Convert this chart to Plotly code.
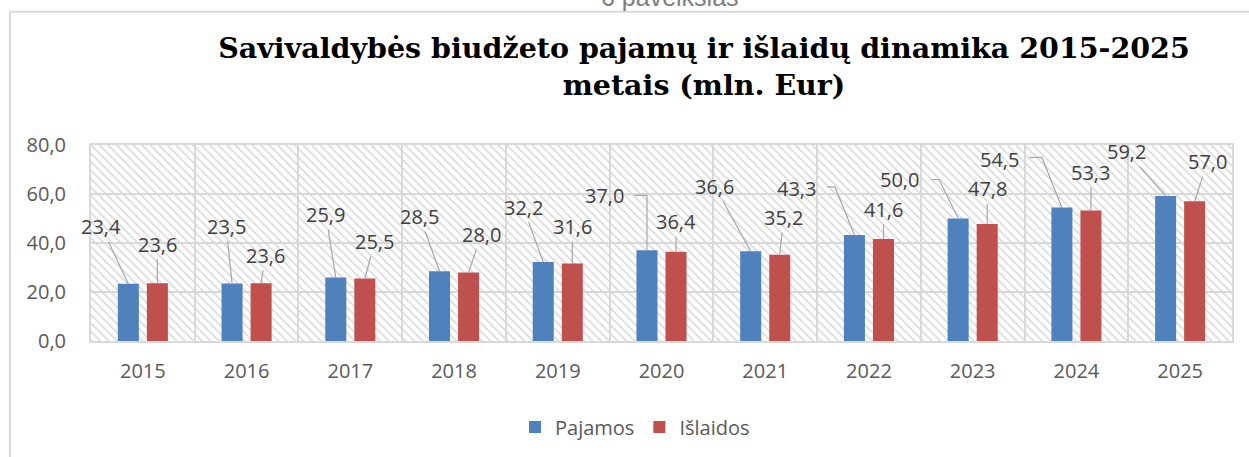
import plotly.graph_objects as go

# ---------------- data ----------------
years = ['2015', '2016', '2017', '2018', '2019', '2020', '2021', '2022', '2023', '2024', '2025']
pajamos = [23.4, 23.5, 25.9, 28.5, 32.2, 37.0, 36.6, 43.3, 50.0, 54.5, 59.2]
islaidos = [23.6, 23.6, 25.5, 28.0, 31.6, 36.4, 35.2, 41.6, 47.8, 53.3, 57.0]
series_names = ['Pajamos', 'Išlaidos']
y_tick_values = [0, 20, 40, 60, 80]

title_text = 'Savivaldybės biudžeto pajamų ir išlaidų dinamika 2015-2025<br>metais (mln. Eur)'
caption_text = '6 paveikslas'

# ---------------- styles / positions ----------------
colors = ['#4F81BD', '#C0504D']
W, H = 1249, 457
ML, MR, MT, MB = 91, 17, 145, 115
BARGAP, BARGROUPGAP = 0.44, 0.276
GRID = '#d9d9d9'
LEADER = '#a6a6a6'
FONT = 'Open Sans'

# data label offsets (pixels, relative to bar top centre; y downwards)
paj_lab_dx = [-27, -6, -10, -20, -20, -42, -36, -58, -59, -62, -39]
paj_lab_dy = [-57, -57, -63, -55, -55, -55, -65, -46, -39, -48, -44]
isl_lab_dx = [0, 4, 10, 13, 0, 0, 4, 0, 0, 0, 13]
isl_lab_dy = [-39, -28, -37, -38, -37, -30, -37, -30, -35, -38, -40]
# elbow leader lines: index -> (corner dx, corner dy, end dx)
paj_elbow = {5: (0, -55, -12), 7: (-19.5, -48, -27.5), 8: (-19, -39, -27), 9: (-20, -50, -32)}

plot_w = W - ML - MR
plot_h = H - MT - MB
cat_w = plot_w / len(years)
bar_off = cat_w * (1 - BARGAP) / 4.0


def fmt(v):
    return f'{v:.1f}'.replace('.', ',')


fig = go.Figure()

# hatched plot-area background (main axes, drawn under the overlay bars)
fig.add_trace(go.Scatter(
    x=[0, 1, 1, 0, 0], y=[0, 0, 1, 1, 0], xaxis='x', yaxis='y',
    mode='none', fill='toself', fillcolor='rgba(0,0,0,0)',
    fillpattern=dict(shape='\\', fgcolor='#d6d6d6', bgcolor='rgba(0,0,0,0)',
                     size=6, solidity=0.25, fillmode='replace'),
    hoverinfo='skip', showlegend=False))

for name, vals, col in zip(series_names, [pajamos, islaidos], colors):
    fig.add_trace(go.Bar(
        x=years, y=vals, name=name, marker=dict(color=col, line=dict(width=0)),
        xaxis='x2', yaxis='y2'))

annotations = []
shapes = []
for s, (vals, dxs, dys) in enumerate([(pajamos, paj_lab_dx, paj_lab_dy),
                                       (islaidos, isl_lab_dx, isl_lab_dy)]):
    shift = -bar_off if s == 0 else bar_off
    for i, v in enumerate(vals):
        elbow = paj_elbow.get(i) if s == 0 else None
        # category axis: position by category serial number
        annotations.append(dict(
            x=i, y=v, xref='x2', yref='y2', xshift=shift,
            text=fmt(v), showarrow=True, arrowhead=0, arrowwidth=1.2,
            arrowcolor='rgba(0,0,0,0)' if elbow else LEADER,
            ax=dxs[i], ay=dys[i],
            font=dict(family=FONT, size=20, color='#404040')))
        if elbow:
            cdx, cdy, edx = elbow
            path = f'M{shift:.2f},0 L{shift + cdx:.2f},{-cdy} L{shift + edx:.2f},{-cdy}'
            shapes.append(dict(
                type='path', path=path, xref='x2', yref='y2',
                xsizemode='pixel', ysizemode='pixel',
                xanchor=i, yanchor=v,
                line=dict(color=LEADER, width=1.2)))

# caption peeking in at the top
annotations.append(dict(
    text=caption_text, xref='paper', yref='paper', x=(670 - ML) / plot_w,
    y=(H - MB + 4) / plot_h, xanchor='center', yanchor='middle',
    showarrow=False, font=dict(family='Liberation Sans', size=25, color='#7f7f7f')))

# chart-area frame
shapes.append(dict(
    type='rect', xref='paper', yref='paper',
    x0=(10 - ML) / plot_w, x1=2.0, y0=-2.0, y1=(H - MB - 11) / plot_h,
    line=dict(color=GRID, width=2), fillcolor='rgba(0,0,0,0)', layer='below'))

fig.update_layout(
    width=W, height=H,
    margin=dict(l=ML, r=MR, t=MT, b=MB, pad=0),
    paper_bgcolor='white', plot_bgcolor='white',
    separators=', ',
    barmode='group', bargap=BARGAP, bargroupgap=BARGROUPGAP,
    title=dict(text=f'<b>{title_text}</b>', xref='container', yref='container',
               x=704 / W, xanchor='center', y=1 - 58 / H, yanchor='top',
               font=dict(family='DejaVu Serif', size=28.5, color='#000000')),
    xaxis=dict(range=[0, 1], visible=False, fixedrange=True),
    yaxis=dict(range=[0, 1], visible=False, fixedrange=True),
    xaxis2=dict(overlaying='x', anchor='y2', type='category',
                categoryorder='array', categoryarray=years,
                range=[-0.5, len(years) - 0.5], autorange=False,
                tickson='boundaries', showgrid=True, gridcolor=GRID, gridwidth=2,
                showline=True, mirror=True, linecolor=GRID, linewidth=2,
                ticks='', ticklabelstandoff=11,
                tickfont=dict(family=FONT, size=20, color='#595959')),
    yaxis2=dict(overlaying='y', anchor='x2', side='left', range=[0, 80],
                autorange=False,
                tickvals=y_tick_values, tickformat='.1f',
                showgrid=True, gridcolor=GRID, gridwidth=2, zeroline=False,
                showline=True, mirror=True, linecolor=GRID, linewidth=2,
                ticks='', ticklabelstandoff=19,
                tickfont=dict(family=FONT, size=20, color='#595959')),
    legend=dict(orientation='h', x=(515 - ML) / plot_w, xanchor='left',
                y=(H - MB - 427) / plot_h, yanchor='middle',
                bgcolor='rgba(0,0,0,0)',
                font=dict(family=FONT, size=20, color='#595959')),
    annotations=annotations,
    shapes=shapes,
)

fig.write_html('out.html', config={'displayModeBar': False},
               post_script="document.body.style.margin='0';")
